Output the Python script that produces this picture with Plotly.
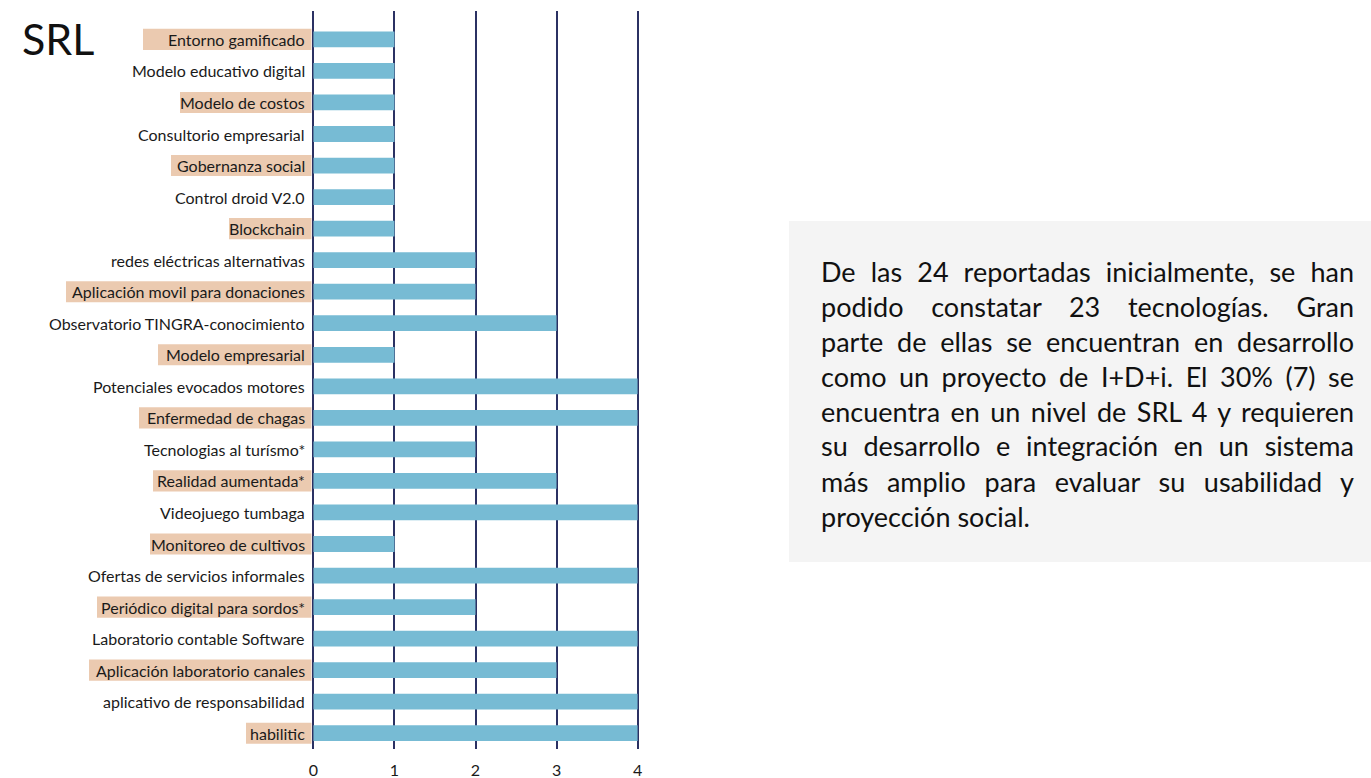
import json
import plotly.graph_objects as go

# Technologies (top to bottom) and their SRL level
technologies = [
    "Entorno gamificado",
    "Modelo educativo digital",
    "Modelo de costos",
    "Consultorio empresarial",
    "Gobernanza social",
    "Control droid V2.0",
    "Blockchain",
    "redes eléctricas alternativas",
    "Aplicación movil para donaciones",
    "Observatorio TINGRA-conocimiento",
    "Modelo empresarial",
    "Potenciales evocados motores",
    "Enfermedad de chagas",
    "Tecnologias al turísmo*",
    "Realidad aumentada*",
    "Videojuego tumbaga",
    "Monitoreo de cultivos",
    "Ofertas de servicios informales",
    "Periódico digital para sordos*",
    "Laboratorio contable Software",
    "Aplicación laboratorio canales",
    "aplicativo de responsabilidad",
    "habilitic",
]
srl_level = [1, 1, 1, 1, 1, 1, 1, 2, 2, 3, 1, 4, 4, 2, 3, 4, 1, 4, 2, 4, 3, 4, 4]
x_ticks = [0, 1, 2, 3, 4]

title_text = "SRL"
summary_lines = [
    "De las 24 reportadas inicialmente, se han",
    "podido constatar 23 tecnologías. Gran",
    "parte de ellas se encuentran en desarrollo",
    "como un proyecto de I+D+i. El 30% (7) se",
    "encuentra en un nivel de SRL 4 y requieren",
    "su desarrollo e integración en un sistema",
    "más amplio para evaluar su usabilidad y",
    "proyección social.",
]

# ---- styling / geometry -------------------------------------------------
FONT = "Lato"
BAR_COLOR = "#77BBD4"
GRID_COLOR = "#2b3163"
HILITE = "#EBCAB0"
PANEL = "#F4F4F4"

W, H = 1371, 778
ML, MR, MT, MB = 311, 731, 11, 29
PW, PH = W - ML - MR, H - MT - MB
Y_LO, Y_HI = -0.5, 22.9

# left edge (px) of the highlight band behind every other label
hilite_left_px = {
    0: 143, 2: 180, 4: 171, 6: 229, 8: 66, 10: 158, 12: 139,
    14: 153, 16: 150, 18: 97, 20: 89, 22: 246,
}


def px_x(px):
    return (px - ML) / PW


def px_y(py):
    return (H - MB - py) / PH


n = len(technologies)
order_bottom_up = technologies[::-1]


def cat_pos(i):
    # numeric position of top-down item i on the category axis
    return n - 1 - i


fig = go.Figure(
    go.Bar(
        x=srl_level,
        y=technologies,
        orientation="h",
        marker=dict(color=BAR_COLOR, line=dict(width=0)),
        width=0.5,
        hoverinfo="x+y",
    )
)

shapes = []
annotations = []

# highlight bands behind alternating labels
for i, left in hilite_left_px.items():
    c = cat_pos(i)
    y0 = (c - 0.335 - Y_LO) / (Y_HI - Y_LO)
    y1 = (c + 0.335 - Y_LO) / (Y_HI - Y_LO)
    shapes.append(dict(
        type="rect", xref="paper", yref="paper",
        x0=px_x(left), x1=px_x(311.5), y0=y0, y1=y1,
        fillcolor=HILITE, line=dict(width=0), layer="below",
    ))

# category labels
for name in technologies:
    annotations.append(dict(
        x=0, xref="x", y=name, yref="y",
        xanchor="right", yanchor="middle", xshift=-6,
        text=name, showarrow=False,
        font=dict(family=FONT, size=16, color="#1a1a1a"),
    ))

# title
annotations.append(dict(
    x=px_x(20), y=px_y(38), xref="paper", yref="paper",
    xanchor="left", yanchor="middle", text=title_text, showarrow=False,
    font=dict(family=FONT, size=43, color="#111111"),
))

# summary panel
shapes.append(dict(
    type="rect", xref="paper", yref="paper",
    x0=px_x(789), x1=px_x(1372), y0=px_y(562), y1=px_y(221),
    fillcolor=PANEL, line=dict(width=0), layer="below",
))
justify_idx = []
line_y0, line_step = 271, 35
for k, line in enumerate(summary_lines):
    if k < len(summary_lines) - 1:
        justify_idx.append(len(annotations))
    annotations.append(dict(
        x=px_x(819), y=px_y(line_y0 + k * line_step),
        xref="paper", yref="paper",
        xanchor="left", yanchor="middle", align="left",
        text=line, showarrow=False,
        font=dict(family=FONT, size=27, color="#111111"),
    ))

fig.update_layout(
    width=W, height=H,
    margin=dict(l=ML, r=MR, t=MT, b=MB, pad=0),
    paper_bgcolor="white", plot_bgcolor="white",
    showlegend=False,
    shapes=shapes,
    annotations=annotations,
    font=dict(family=FONT, color="#1a1a1a"),
    xaxis=dict(
        range=[-0.03, 4.03],
        tickvals=x_ticks,
        ticktext=[str(v) for v in x_ticks],
        showgrid=True, gridcolor=GRID_COLOR, gridwidth=1.5,
        zeroline=False, showline=False, ticks="",
        tickfont=dict(family=FONT, size=16, color="#1a1a1a"),
        ticklabelstandoff=10,
        automargin=False,
        fixedrange=True,
    ),
    yaxis=dict(
        type="category",
        categoryorder="array", categoryarray=order_bottom_up,
        range=[Y_LO, Y_HI],
        showgrid=False, zeroline=False, showline=False,
        showticklabels=False, ticks="",
        automargin=False,
        fixedrange=True,
    ),
)

# stretch the paragraph lines to a common width (justified text)
post_script = """
var gd = document.getElementById('{plot_id}');
var JUST = %s;
var TARGET = 533;
function justifyLines() {
  JUST.forEach(function (i) {
    var g = gd.querySelector('g.annotation[data-index="' + i + '"]');
    if (!g) return;
    var t = g.querySelector('text');
    if (!t) return;
    t.style.wordSpacing = '0px';
    var w = t.getComputedTextLength();
    var nsp = (t.textContent.match(/ /g) || []).length;
    if (nsp > 0) t.style.wordSpacing = ((TARGET - w) / nsp) + 'px';
  });
}
justifyLines();
gd.on('plotly_afterplot', justifyLines);
""" % json.dumps(justify_idx)

fig.write_html("out.html", post_script=post_script, config={"displayModeBar": False})
